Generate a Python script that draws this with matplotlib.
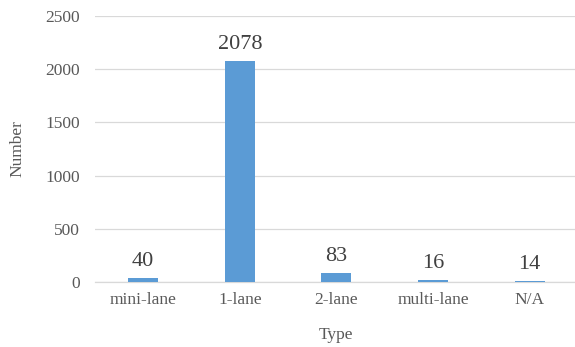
import matplotlib
matplotlib.use("Agg")
import matplotlib.pyplot as plt

categories = ["mini-lane", "1-lane", "2-lane", "multi-lane", "N/A"]
counts = [40, 2078, 83, 16, 14]
yticks = [0, 500, 1000, 1500, 2000, 2500]

plt.rcParams["font.family"] = ["Liberation Serif", "DejaVu Serif"]

fig = plt.figure(figsize=(5.75, 3.47), dpi=100)
ax = fig.add_axes([0.165, 0.187, 0.84, 0.767])

x = range(len(categories))
ax.bar(x, counts, width=0.31, color="#5B9BD5", zorder=3)

# value labels above each bar
for xi, v in zip(x, counts):
    ax.annotate(str(v), (xi, v), xytext=(0, 5), textcoords="offset points",
                ha="center", va="bottom", fontsize=16, color="#404040")

ax.set_xlim(-0.5, len(categories) - 0.5)
ax.set_ylim(0, 2500)
ax.set_yticks(yticks)
ax.set_xticks(list(x))
ax.set_xticklabels(categories)
ax.tick_params(axis="both", length=0, labelsize=12.5, colors="#595959")
ax.tick_params(axis="y", pad=11)
ax.tick_params(axis="x", pad=7)
ax.grid(axis="y", color="#D9D9D9", linewidth=0.9, zorder=0)
for side in ["top", "right", "left"]:
    ax.spines[side].set_visible(False)
ax.spines["bottom"].set_color("#D9D9D9")
ax.spines["bottom"].set_linewidth(0.9)

ax.set_xlabel("Type", fontsize=12.5, color="#595959")
ax.set_ylabel("Number", fontsize=12.5, color="#595959")
ax.xaxis.set_label_coords(0.5, -0.2)
ax.xaxis.label.set_va("center")
ax.yaxis.set_label_coords(-0.16, 0.5)
ax.yaxis.label.set_va("center")

fig.savefig("out.png", dpi=100)
